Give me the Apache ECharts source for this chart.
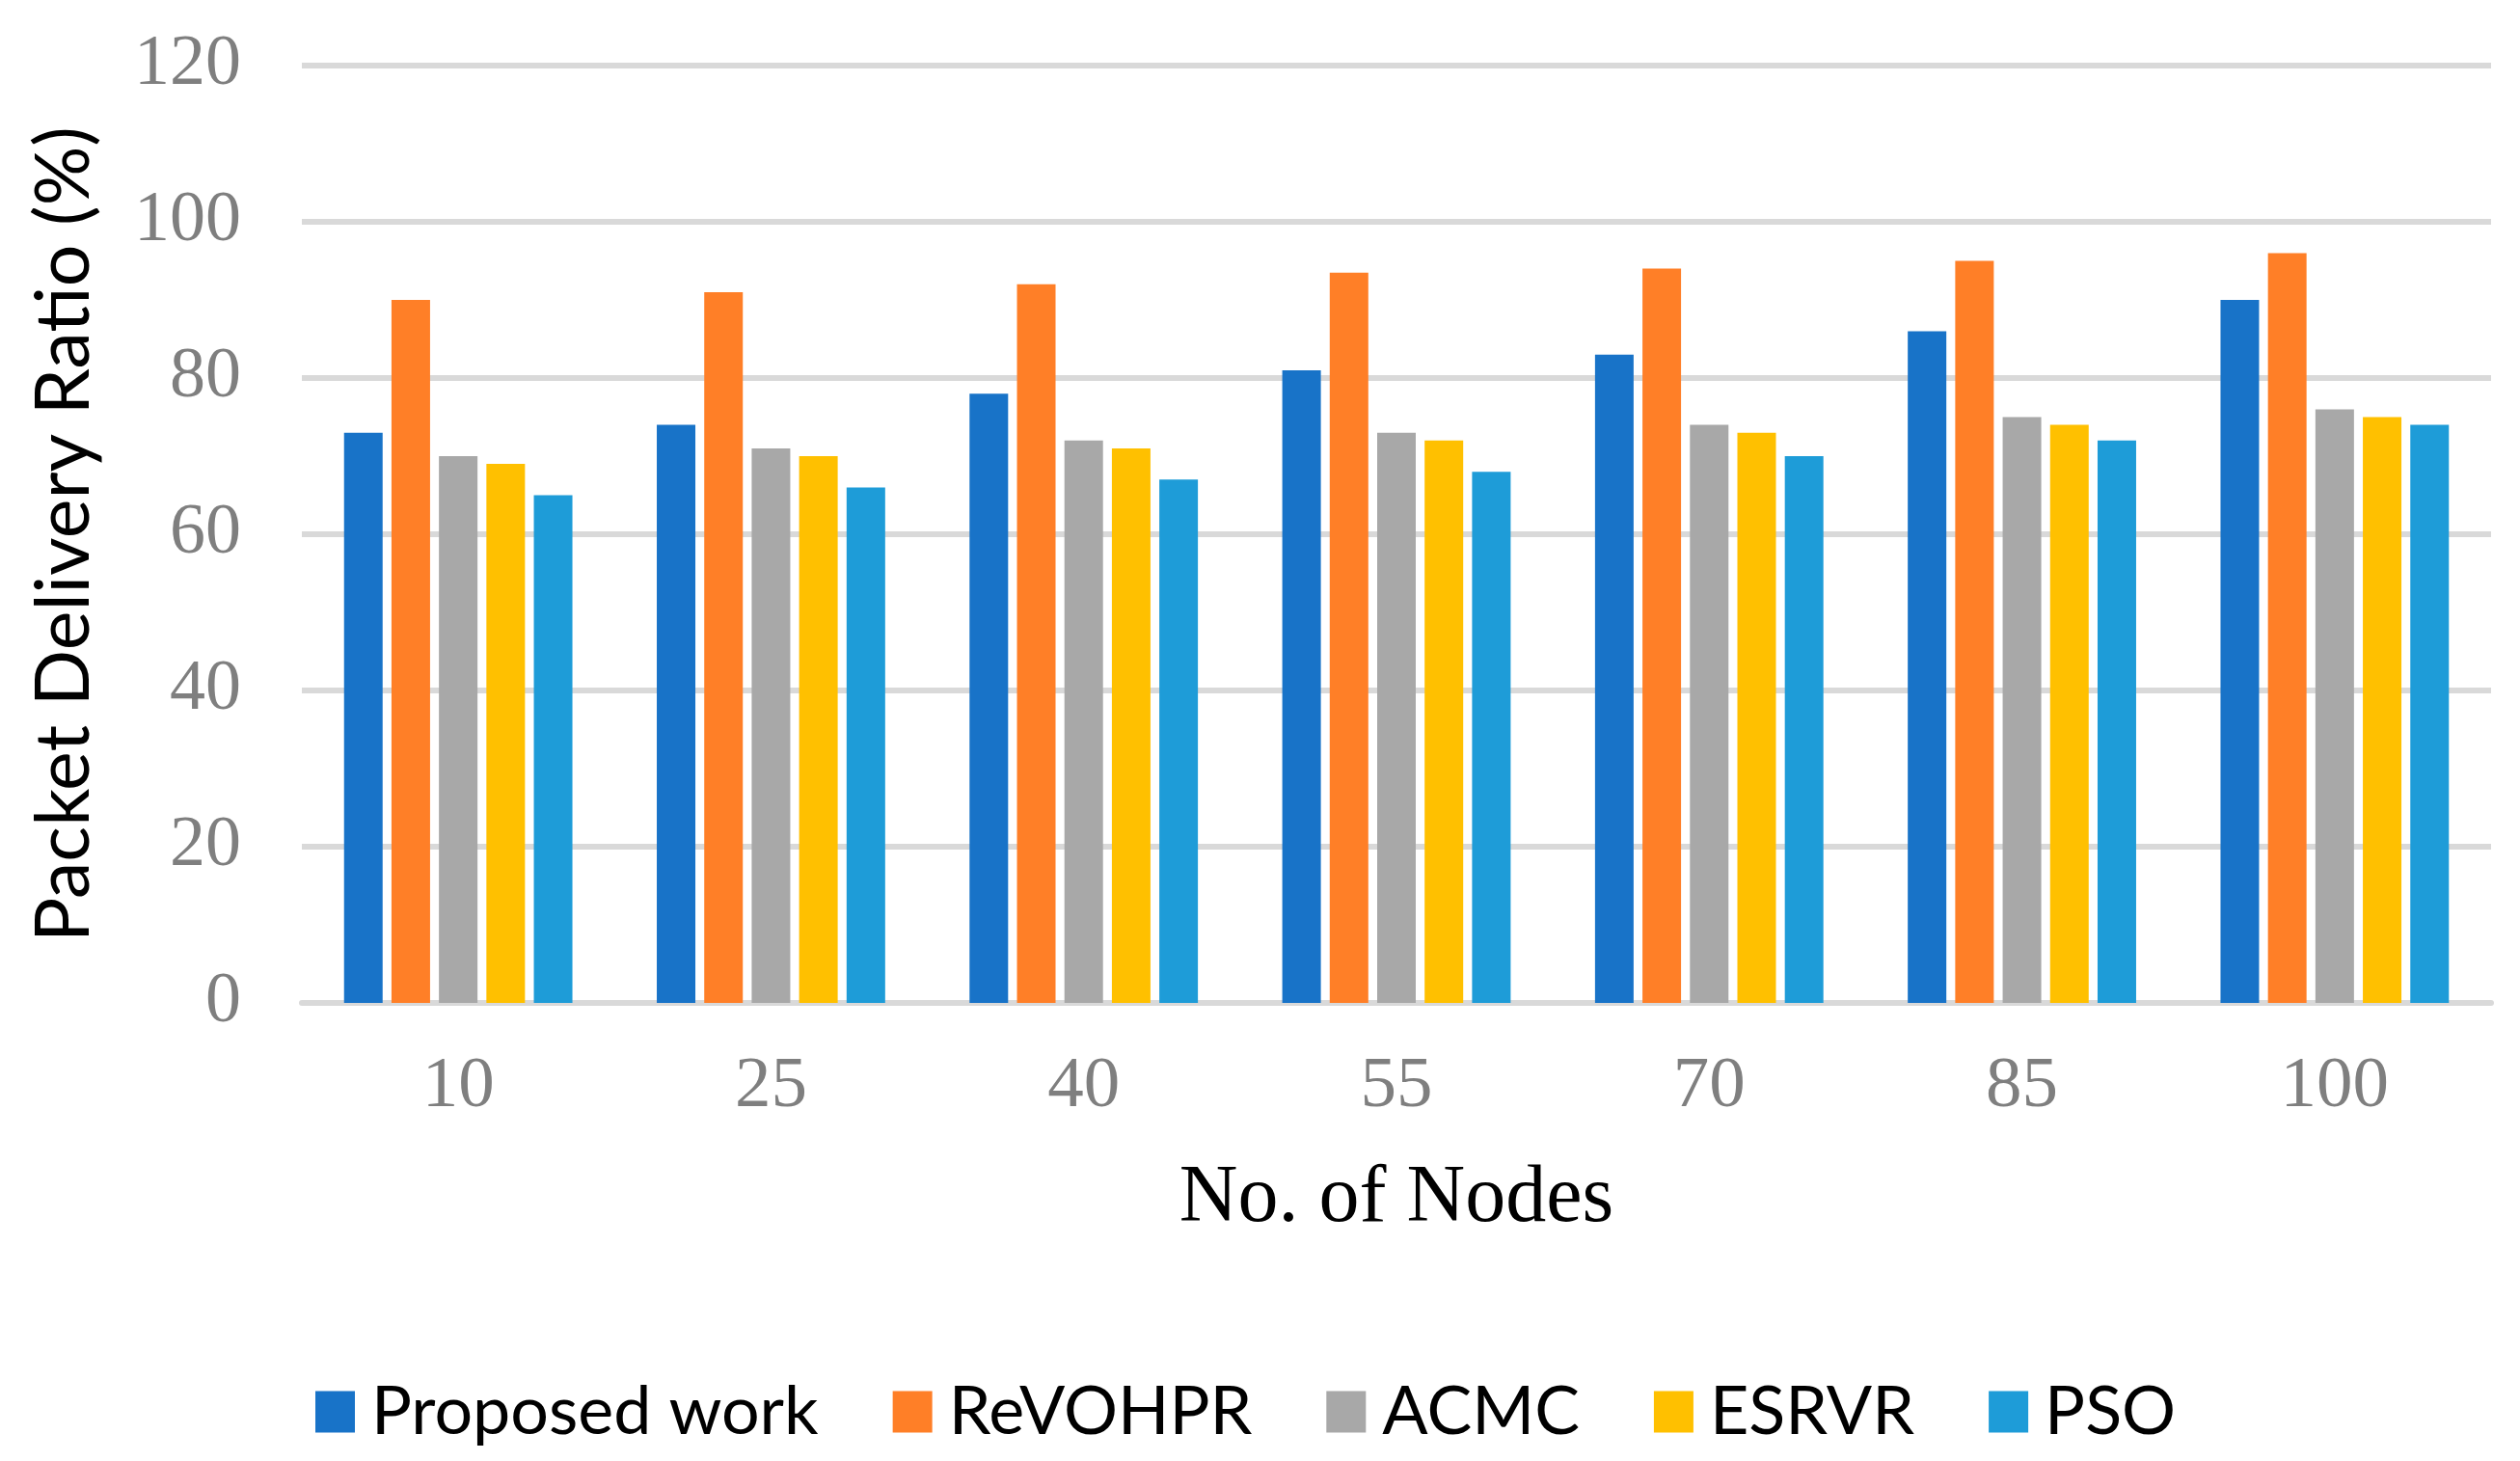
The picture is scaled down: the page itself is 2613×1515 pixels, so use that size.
<!DOCTYPE html>
<html>
<head>
<meta charset="utf-8">
<script src="https://cdn.jsdelivr.net/npm/echarts@6/dist/echarts.min.js"></script>
<style>
html,body{margin:0;padding:0;background:#fff;}
#chart{width:2613px;height:1515px;}
</style>
</head>
<body>
<div id="chart"></div>
<script>
const categories = ['10', '25', '40', '55', '70', '85', '100'];
const seriesNames = ['Proposed work', 'ReVOHPR', 'ACMC', 'ESRVR', 'PSO'];
const proposedWork = [73, 74, 78, 81, 83, 86, 90];
const revohpr = [90, 91, 92, 93.5, 94, 95, 96];
const acmc = [70, 71, 72, 73, 74, 75, 76];
const esrvr = [69, 70, 71, 72, 73, 74, 75];
const pso = [65, 66, 67, 68, 70, 72, 74];
const yTicks = [0, 20, 40, 60, 80, 100, 120];

const colors = ['#1873C8', '#FF7F27', '#A8A8A8', '#FFC000', '#1E9CD8'];
const values = [proposedWork, revohpr, acmc, esrvr, pso];

const chart = echarts.init(document.getElementById('chart'), null, {renderer: 'canvas'});
chart.setOption({
  animation: false,
  backgroundColor: '#fff',
  color: colors,
  grid: {left: 313, right: 30, top: 68, bottom: 475, containLabel: false},
  legend: {
    data: seriesNames,
    left: 322,
    top: 1424,
    icon: 'rect',
    itemWidth: 41,
    itemHeight: 43,
    itemGap: 77,
    textStyle: {fontFamily: 'Lato', fontSize: 70, color: '#000', padding: [0, 0, 0, 12]}
  },
  xAxis: {
    type: 'category',
    data: categories,
    name: 'No. of Nodes',
    nameLocation: 'middle',
    nameGap: 162,
    nameTextStyle: {fontFamily: 'Liberation Serif', fontSize: 84, color: '#000'},
    axisLine: {show: true, lineStyle: {color: '#D9D9D9', width: 6}},
    axisTick: {show: false},
    axisLabel: {fontFamily: 'Liberation Serif', fontSize: 75, color: '#7F7F7F', margin: 50}
  },
  yAxis: {
    type: 'value',
    min: yTicks[0],
    max: yTicks[yTicks.length - 1],
    interval: 20,
    name: 'Packet Delivery Ratio (%)',
    nameLocation: 'middle',
    nameGap: 207,
    nameTextStyle: {fontFamily: 'Lato', fontSize: 77, color: '#000'},
    axisLine: {show: false},
    axisTick: {show: false},
    splitLine: {show: true, lineStyle: {color: '#D9D9D9', width: 6}},
    axisLabel: {fontFamily: 'Liberation Serif', fontSize: 74, color: '#7F7F7F', margin: 63}
  },
  series: seriesNames.map((n, i) => ({
    name: n,
    type: 'bar',
    data: values[i],
    barWidth: 40,
    barGap: '23%',
    itemStyle: {color: colors[i]}
  }))
});
</script>
</body>
</html>
